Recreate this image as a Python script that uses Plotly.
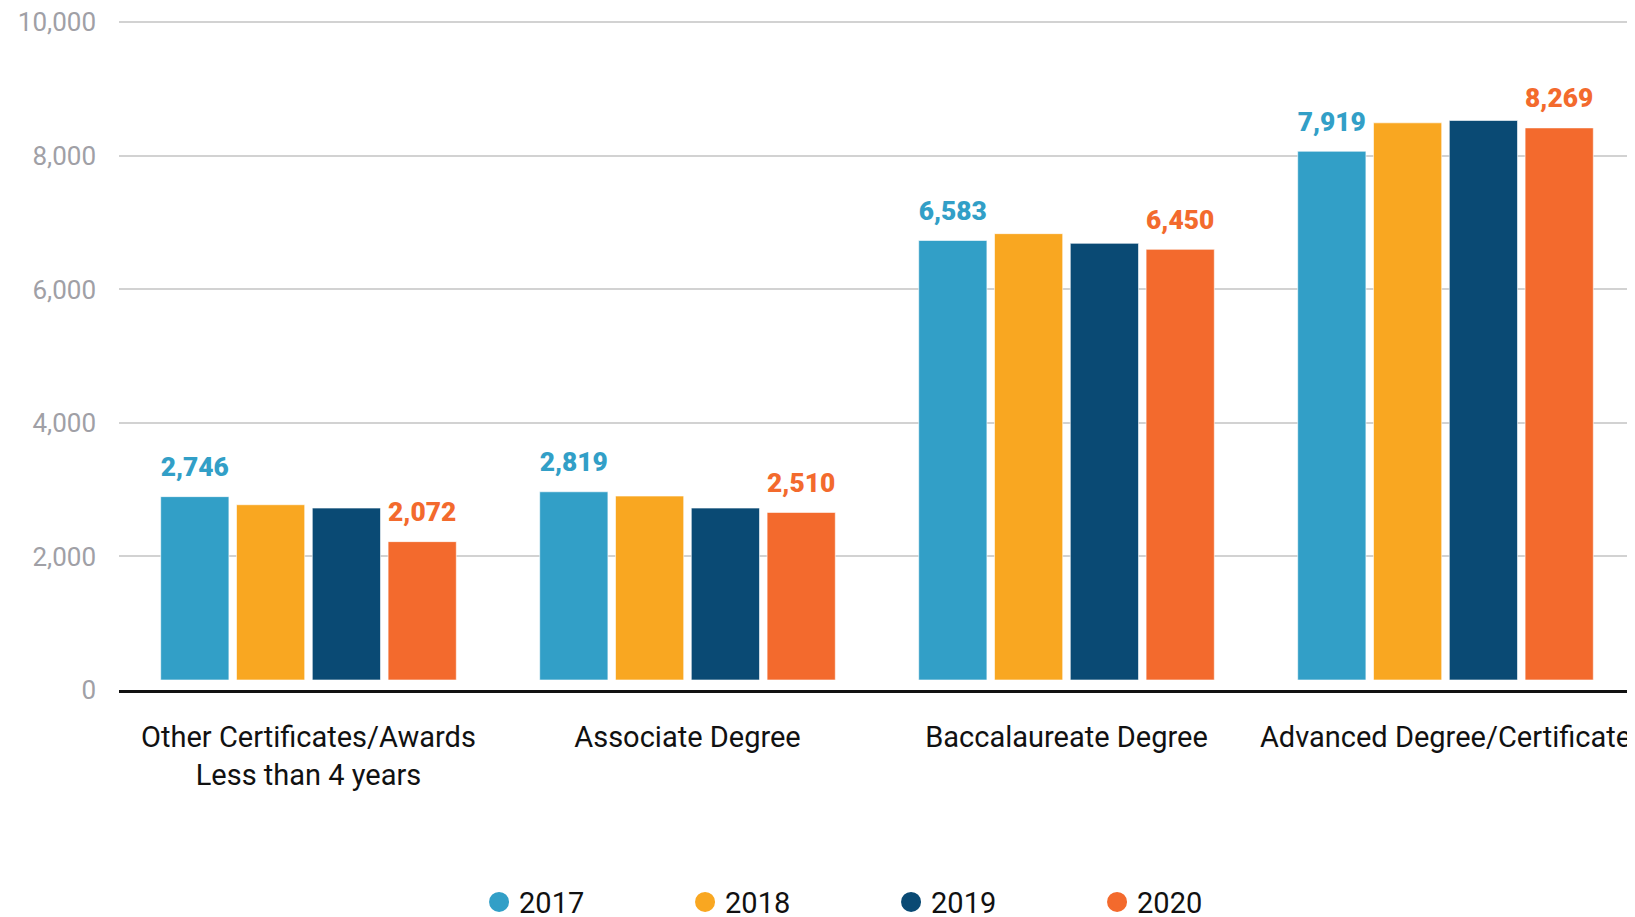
import plotly.graph_objects as go

categories = ["Other Certificates/Awards<br>Less than 4 years", "Associate Degree",
              "Baccalaureate Degree", "Advanced Degree/Certificate"]
years = ["2017", "2018", "2019", "2020"]
values_2017 = [2746, 2819, 6583, 7919]
values_2018 = [2625, 2755, 6685, 8345]
values_2019 = [2575, 2575, 6540, 8380]
values_2020 = [2072, 2510, 6450, 8269]
series = [values_2017, values_2018, values_2019, values_2020]
labelled = [True, False, False, True]
colors = ["#329fc7", "#f9a721", "#0a4a74", "#f36a2d"]
y_ticks = [0, 2000, 4000, 6000, 8000, 10000]
bar_base = 150    # visual offset of bars above the baseline, as in the original
label_pad = 165   # extra space between bar top and its value label

fig = go.Figure()
for yr, vals, col, lab in zip(years, series, colors, labelled):
    fig.add_trace(go.Bar(
        x=categories, y=vals, base=bar_base, name=yr, offsetgroup=yr,
        marker=dict(color=col, line=dict(color="rgba(255,255,255,0.6)", width=1)),
        showlegend=False, hoverinfo="x+y",
    ))
    if lab:
        # transparent spacer bar carrying the value label above the real bar
        fig.add_trace(go.Bar(
            x=categories, y=[label_pad] * len(vals),
            base=[v + bar_base for v in vals], offsetgroup=yr,
            marker=dict(color="rgba(0,0,0,0)", line=dict(width=0)),
            text=[f"{v:,}" for v in vals], textposition="outside",
            textfont=dict(family="Roboto", size=37, color=col, weight=900),
            cliponaxis=False, showlegend=False, hoverinfo="skip",
        ))
    fig.add_trace(go.Scatter(
        x=[None], y=[None], mode="markers", name=yr,
        marker=dict(color=col, size=16, symbol="circle", line=dict(color=col, width=4)),
        showlegend=True,
    ))

fig.update_layout(
    width=1627, height=930,
    margin=dict(l=111, r=0, t=13, b=248),
    paper_bgcolor="white", plot_bgcolor="white",
    barmode="group", bargap=0.2, bargroupgap=0.1,
    font=dict(family="Roboto", color="#111111"),
    legend=dict(orientation="h", x=0.2375, xanchor="left", y=-0.317, yanchor="middle",
                font=dict(size=29, color="#111111"), entrywidth=161),
    xaxis=dict(showline=True, linecolor="#111111", linewidth=3, ticks="",
               tickfont=dict(size=29, color="#111111"), ticklabelstandoff=19,
               showgrid=False, automargin=False),
    yaxis=dict(range=[0, 10020], tickvals=y_ticks, tickformat=",d",
               showgrid=True, gridcolor="#d2d2d2", gridwidth=1.5, zeroline=False,
               tickfont=dict(size=26, color="#a0a0a6"), ticklabelstandoff=22,
               ticklabeloverflow="allow", automargin=False),
)

fig.write_html("out.html")
